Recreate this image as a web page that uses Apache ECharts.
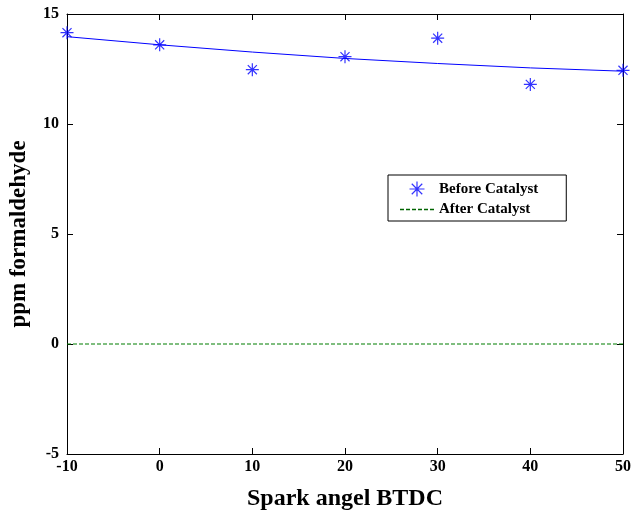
<!DOCTYPE html>
<html><head><meta charset="utf-8">
<script src="https://cdn.jsdelivr.net/npm/echarts@6/dist/echarts.min.js"></script>
<style>html,body{margin:0;background:#fff}#c{width:634px;height:516px}</style>
</head><body><div id="c"></div>
<script>
const sparkAngles = [-10, 0, 10, 20, 30, 40, 50]
const beforeCatalyst = [14.15, 13.6, 12.47, 13.06, 13.9, 11.8, 12.44]
const fitLine = [13.97, 13.6, 13.27, 12.98, 12.75, 12.55, 12.4]
const afterCatalyst = [0, 0, 0, 0, 0, 0, 0]

const font = 'Liberation Serif'
const pair = (ys) => sparkAngles.map((x, i) => [x, ys[i]])
const tickStyle = { color: '#000', fontFamily: font, fontWeight: 'bold', fontSize: 16 }
const line = { onZero: false, lineStyle: { color: '#000', width: 1 } }
const tick = { inside: true, length: 6, lineStyle: { color: '#000' } }
const star = 'path://M0,-10L0,10M-10,0L10,0M-7,-7L7,7M-7,7L7,-7'
const dashIcon = 'path://M0,0h4v1.5h-4zM6,0h4v1.5h-4zM12,0h4v1.5h-4zM18,0h4v1.5h-4zM24,0h4v1.5h-4zM30,0h4v1.5h-4z'

const chart = echarts.init(document.getElementById('c'))
chart.setOption({
  animation: false,
  grid: { left: 63, right: 10, top: 14, bottom: 54 },
  xAxis: [
    { type: 'value', min: -10, max: 50, interval: 10, axisLine: line, axisTick: tick,
      axisLabel: { ...tickStyle, margin: 5 }, splitLine: { show: false },
      name: 'Spark angel BTDC', nameLocation: 'middle', nameGap: 33,
      nameTextStyle: { color: '#000', fontFamily: font, fontWeight: 'bold', fontSize: 24 } },
    { type: 'value', position: 'top', min: -10, max: 50, interval: 10, axisLine: line, axisTick: tick,
      axisLabel: { show: false }, splitLine: { show: false } }
  ],
  yAxis: [
    { type: 'value', min: -5, max: 15, interval: 5, axisLine: line, axisTick: tick,
      axisLabel: { ...tickStyle, margin: 8 }, splitLine: { show: false },
      name: 'ppm formaldehyde', nameLocation: 'middle', nameGap: 36,
      nameTextStyle: { color: '#000', fontFamily: font, fontWeight: 'bold', fontSize: 23 } },
    { type: 'value', position: 'right', min: -5, max: 15, interval: 5, axisLine: line, axisTick: tick,
      axisLabel: { show: false }, splitLine: { show: false } }
  ],
  legend: {
    left: 388, top: 175, width: 193, orient: 'vertical', itemGap: 3,
    padding: [4, 28, 4, 12], borderColor: '#000', borderWidth: 1, backgroundColor: '#fff',
    itemWidth: 34, itemHeight: 15,
    textStyle: { color: '#000', fontFamily: font, fontWeight: 'bold', fontSize: 15 },
    data: [
      { name: 'Before Catalyst', icon: star, itemStyle: { color: 'none', borderColor: '#0000ff', borderWidth: 1.2 } },
      { name: 'After Catalyst', icon: dashIcon, itemWidth: 34, itemHeight: 1.5,
        itemStyle: { color: '#006400', borderWidth: 0 } }
    ]
  },
  series: [
    { name: 'fit', type: 'line', data: pair(fitLine), showSymbol: false,
      lineStyle: { color: '#0000ff', width: 1 }, silent: true },
    { name: 'Before Catalyst', type: 'scatter', data: pair(beforeCatalyst),
      symbol: star, symbolSize: 13,
      itemStyle: { color: 'none', borderColor: '#0000ff', borderWidth: 1.2 } },
    { name: 'After Catalyst', type: 'line', data: pair(afterCatalyst), showSymbol: false,
      symbol: 'none', lineStyle: { color: '#007f00', width: 1.2, type: [4, 2] },
      itemStyle: { color: '#007f00' } }
  ]
})
</script></body></html>
